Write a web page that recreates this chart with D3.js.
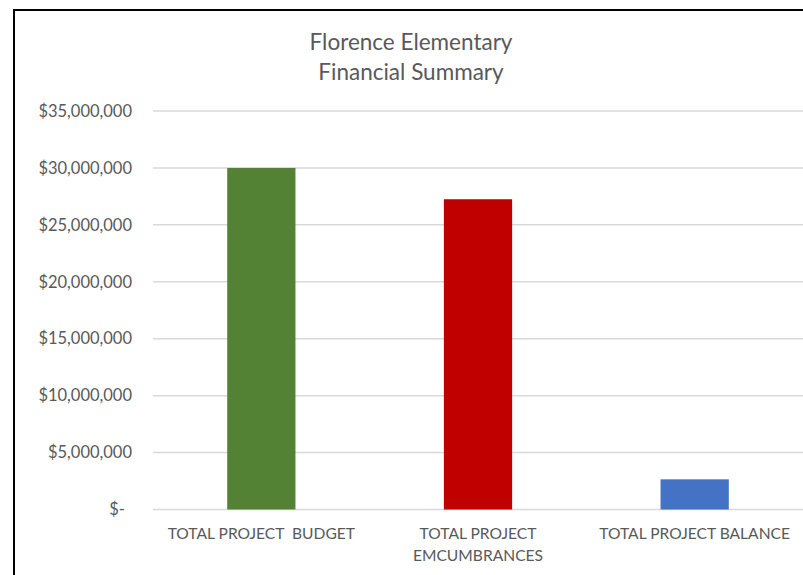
<!DOCTYPE html>
<html>
<head>
<meta charset="utf-8">
<script src="https://cdn.jsdelivr.net/npm/d3@7"></script>
<style>
  body { margin: 0; background: #fff; }
  svg { display: block; font-family: Lato, "Open Sans", sans-serif; }
</style>
</head>
<body>
<svg id="chart" width="803" height="575"></svg>
<script>
// chart data
var titleLines = ["Florence Elementary", "Financial Summary"];
var categories = ["TOTAL PROJECT  BUDGET", "TOTAL PROJECT EMCUMBRANCES", "TOTAL PROJECT BALANCE"];
var labelLines = [["TOTAL PROJECT  BUDGET"], ["TOTAL PROJECT", "EMCUMBRANCES"], ["TOTAL PROJECT BALANCE"]];
var values = [30000000, 27250000, 2650000];
var barColors = ["#548235", "#c00000", "#4472c4"];
var yTicks = [0, 5000000, 10000000, 15000000, 20000000, 25000000, 30000000, 35000000];

function render() {
    var svg = d3.select("#chart");
    var plotLeft = 153, plotRight = 803, plotTop = 111, plotBottom = 509.5;

    // outer frame (cut off at right and bottom like the screenshot)
    svg.append("rect")
        .attr("x", 14).attr("y", 10)
        .attr("width", 820).attr("height", 600)
        .attr("fill", "none")
        .attr("stroke", "#000")
        .attr("stroke-width", 2);

    var xs = d3.scaleBand().domain(categories)
        .range([plotLeft, plotRight])
        .paddingInner(0.685).paddingOuter(0.3425);

    var ys = d3.scaleLinear().domain([0, 35000000]).range([plotBottom, plotTop]);

    // gridlines
    svg.append("g")
      .selectAll("line")
      .data(yTicks)
      .enter()
      .append("line")
        .attr("x1", plotLeft).attr("x2", plotRight)
        .attr("y1", function(d) { return ys(d); })
        .attr("y2", function(d) { return ys(d); })
        .attr("stroke", "#d9d9d9")
        .attr("stroke-width", 1.5);

    // y axis labels
    var fmt = d3.format(",");
    var yAxis = d3.axisLeft(ys)
        .tickValues(yTicks)
        .tickSize(0)
        .tickPadding(0)
        .tickFormat(function(d) { return d == 0 ? "$-" : "$" + fmt(d); });

    var gy = svg.append("g")
        .attr("transform", "translate(132,0)")
        .call(yAxis);
    gy.select(".domain").remove();
    gy.selectAll("text")
        .attr("fill", "#595959")
        .style("font-size", "16.5px")
        .style("font-family", "Lato, sans-serif")
        .attr("dx", function(d) { return d == 0 ? -7 : 0; });

    // bars
    svg.append("g")
      .selectAll("rect")
      .data(values)
      .enter()
      .append("rect")
        .attr("x", function(d, i) { return xs(categories[i]); })
        .attr("y", function(d) { return ys(d); })
        .attr("width", xs.bandwidth())
        .attr("height", function(d) { return ys(0) - ys(d); })
        .attr("fill", function(d, i) { return barColors[i]; });

    // category labels
    var xl = svg.append("g")
      .selectAll("text")
      .data(categories)
      .enter()
      .append("text")
        .attr("x", function(d) { return xs(d) + xs.bandwidth() / 2; })
        .attr("y", 539)
        .attr("text-anchor", "middle")
        .attr("fill", "#595959")
        .style("font-size", "15.6px")
        .style("white-space", "pre");
    xl.selectAll("tspan")
      .data(function(d, i) { return labelLines[i]; })
      .enter()
      .append("tspan")
        .attr("x", function() { return d3.select(this.parentNode).attr("x"); })
        .attr("dy", function(d, i) { return i == 0 ? 0 : 22; })
        .text(function(d) { return d; });

    // title
    svg.append("text")
        .attr("x", 411)
        .attr("y", 50)
        .attr("text-anchor", "middle")
        .attr("fill", "#595959")
        .style("font-size", "22.5px")
      .selectAll("tspan")
      .data(titleLines)
      .enter()
      .append("tspan")
        .attr("x", 411)
        .attr("dy", function(d, i) { return i == 0 ? 0 : 30; })
        .text(function(d) { return d; });
}

render();
</script>
</body>
</html>
